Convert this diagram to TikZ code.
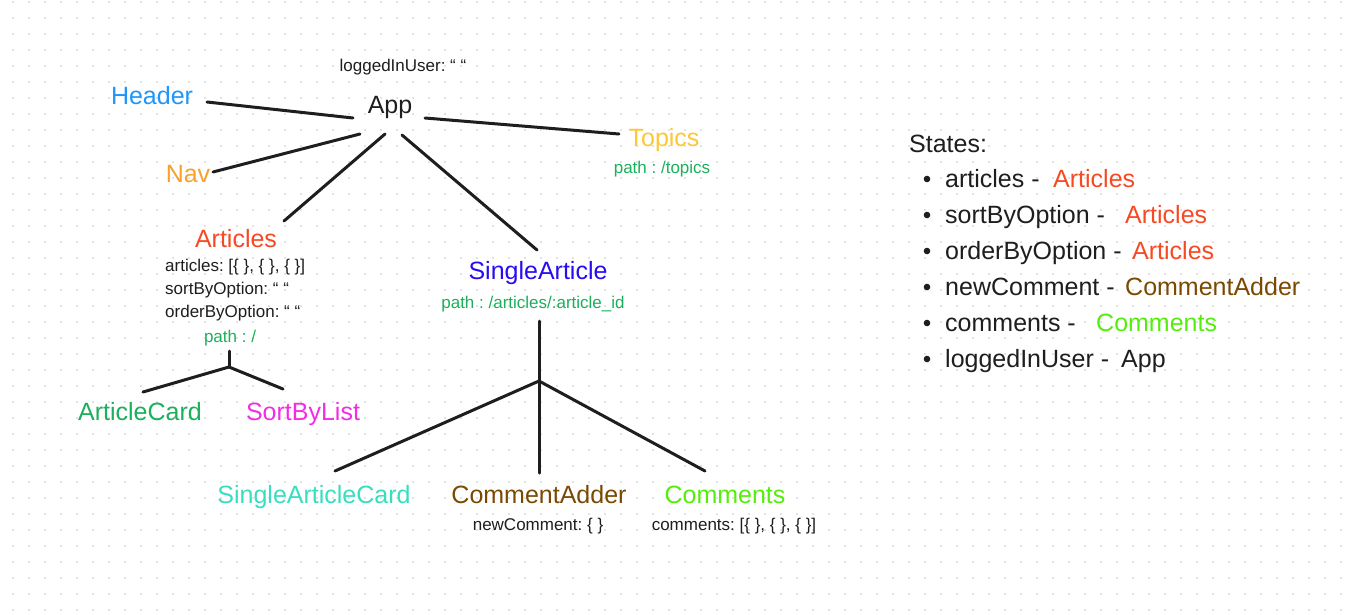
\documentclass[tikz,border=0pt]{standalone}
\usepackage{fontspec}
\setmainfont{Liberation Sans}
\frenchspacing
\definecolor{ink}{HTML}{1E1E1E}
\definecolor{dotc}{HTML}{E2E2E2}
\definecolor{cheader}{HTML}{1E96FA}
\definecolor{cnav}{HTML}{F8A12A}
\definecolor{ctopics}{HTML}{FCC833}
\definecolor{cpath}{HTML}{1CB05C}
\definecolor{carticles}{HTML}{F64A24}
\definecolor{csingle}{HTML}{2A0CF2}
\definecolor{ccard}{HTML}{1CB05C}
\definecolor{csort}{HTML}{F52CE6}
\definecolor{cturq}{HTML}{38DEC0}
\definecolor{cbrown}{HTML}{7A4A02}
\definecolor{clime}{HTML}{55EE0C}
\tikzset{
  big/.style={font=\fontsize{25}{30}\selectfont, inner sep=0pt, anchor=base},
  small/.style={font=\fontsize{17}{20}\selectfont, inner sep=0pt, anchor=base, text=ink},
  pathtxt/.style={font=\fontsize{17}{20}\selectfont, inner sep=0pt, anchor=base, text=cpath},
  item/.style={font=\fontsize{25}{30}\selectfont, inner sep=0pt, anchor=base west, text=ink},
  link/.style={line width=3pt, draw=ink, line cap=round},
}
\begin{document}
\begin{tikzpicture}[x=1pt,y=-1pt]
\useasboundingbox (0,0) rectangle (1355,614);
\fill[white] (0,0) rectangle (1355,614);
\foreach \i in {0,...,83} \foreach \j in {0,...,38}
  \fill[dotc] ({12+16*\i},{0.7+16*\j}) rectangle ++(2,2);

% nodes
\node[small] (loggedin) at (403,71) {loggedInUser: “ “};
\node[big, text=ink] (app) at (390,113) {App};
\node[big, text=cheader] (header) at (152,104) {Header};
\node[big, text=cnav] (nav) at (188,182) {Nav};
\node[big, text=ctopics] (topics) at (664,146) {Topics};
\node[pathtxt] (topicspath) at (662,173) {path : /topics};
\node[big, text=carticles] (articles) at (236,247) {Articles};
\node[small, anchor=base west] (astate1) at (165,271) {articles: [\{ \}, \{ \}, \{ \}]};
\node[small, anchor=base west] (astate2) at (165,294) {sortByOption: “ “};
\node[small, anchor=base west] (astate3) at (165,317) {orderByOption: “ “};
\node[pathtxt] (articlespath) at (230,342) {path : /};
\node[big, text=csingle] (single) at (538,279) {SingleArticle};
\node[pathtxt] (singlepath) at (533,308) {path : /articles/:article\_id};
\node[big, text=ccard] (card) at (140,420) {ArticleCard};
\node[big, text=csort] (sort) at (303,420) {SortByList};
\node[big, text=cturq] (scard) at (314,503) {SingleArticleCard};
\node[big, text=cbrown] (adder) at (539,503) {CommentAdder};
\node[big, text=clime] (comments) at (725,503) {Comments};
\node[small] (adderstate) at (538,530) {newComment: \{ \}};
\node[small] (commentsstate) at (734,530) {comments: [\{ \}, \{ \}, \{ \}]};

% states list
\node[item] (states) at (909,152) {States:};
\foreach \y in {187,223,259,295,331,367}
  \fill[ink] (927,\y-8) circle (3.3);
\node[item] (s1) at (945,187) {articles -};
\node[item, text=carticles] (s1v) at (1053,187) {Articles};
\node[item] (s2) at (945,223) {sortByOption -};
\node[item, text=carticles] (s2v) at (1125,223) {Articles};
\node[item] (s3) at (945,259) {orderByOption -};
\node[item, text=carticles] (s3v) at (1132,259) {Articles};
\node[item] (s4) at (945,295) {newComment -};
\node[item, text=cbrown] (s4v) at (1125,295) {CommentAdder};
\node[item] (s5) at (945,331) {comments -};
\node[item, text=clime] (s5v) at (1096,331) {Comments};
\node[item] (s6) at (945,367) {loggedInUser -};
\node[item] (s6v) at (1121,367) {App};

% connector end points
\coordinate (hA) at (207,102);  \coordinate (hB) at (353,118);
\coordinate (nA) at (213,172);  \coordinate (nB) at (360,134);
\coordinate (aA) at (385,134);  \coordinate (aB) at (284,221);
\coordinate (sA) at (402,135);  \coordinate (sB) at (537,250);
\coordinate (tA) at (425,118);  \coordinate (tB) at (619,134);
\coordinate (atop) at (229,351); \coordinate (aj) at (229,367);
\coordinate (acard) at (143,392); \coordinate (asort) at (283,389);
\coordinate (stop) at (539,321); \coordinate (sj) at (539,381);
\coordinate (sl) at (335,471); \coordinate (sm) at (539,473); \coordinate (sr) at (705,471);

\draw[link] (hA) -- (hB);
\draw[link] (nA) -- (nB);
\draw[link] (aA) -- (aB);
\draw[link] (sA) -- (sB);
\draw[link] (tA) -- (tB);
\draw[link] (atop) -- (aj);
\draw[link] (aj) -- (acard);
\draw[link] (aj) -- (asort);
\draw[link] (stop) -- (sj);
\draw[link] (sj) -- (sl);
\draw[link] (sj) -- (sm);
\draw[link] (sj) -- (sr);
\end{tikzpicture}
\end{document}
